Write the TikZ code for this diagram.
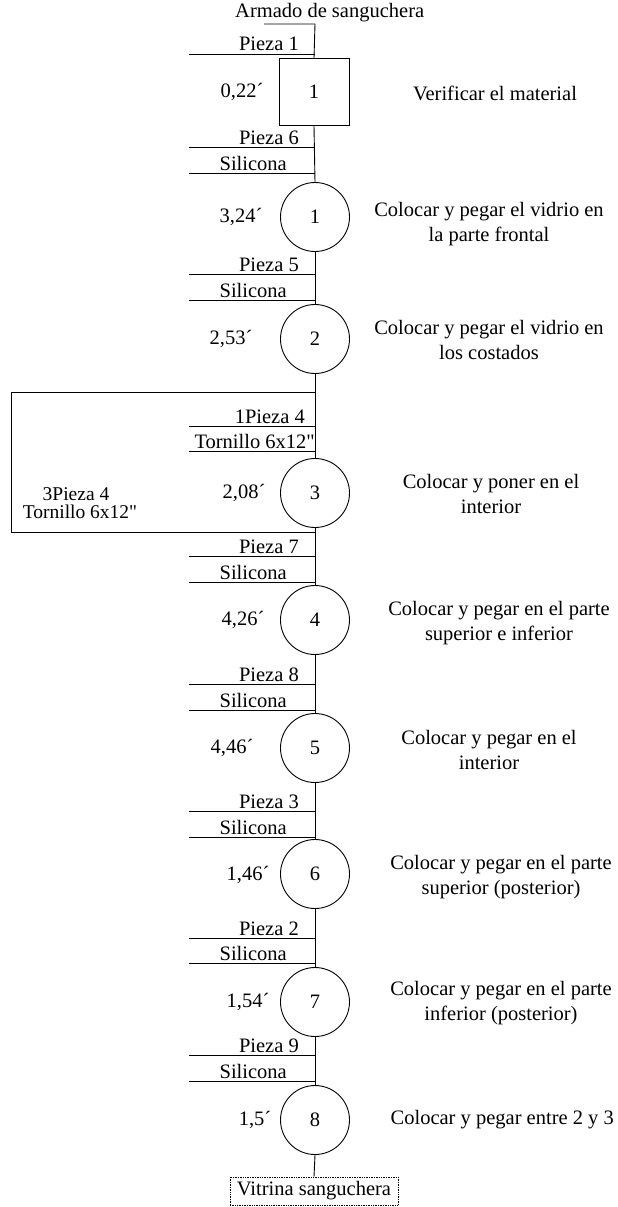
\documentclass[tikz,border=0pt]{standalone}
\usepackage{fontspec}
\setmainfont{Liberation Serif}[Ligatures=TeXOff]
\begin{document}
\begin{tikzpicture}[x=1pt,y=-1pt,
  every node/.style={font=\fontsize{20.5}{24.5}\selectfont, inner sep=0pt},
  flow/.style={line width=0.9pt},
  opbox/.style={draw, line width=0.9pt, minimum width=70pt, minimum height=67pt},
  opcirc/.style={draw, circle, line width=0.9pt, minimum size=69pt},
  inlabel/.style={anchor=base east},
  desc/.style={align=center},
  timelbl/.style={anchor=center}]
\useasboundingbox (0,0) rectangle (618,1207);

% title and start of the line
\node[anchor=base west] (title) at (235,18) {Armado de sanguchera};
\coordinate (start) at (264,24);
\coordinate (top) at (315,24);

% operations along the main line
\node[opbox] (op1) at (314,92) {1};
\node[opcirc] (c1) at (315,217) {1};
\node[opcirc] (c2) at (315,339) {2};
\node[opcirc] (c3) at (315,493) {3};
\node[opcirc] (c4) at (315,620) {4};
\node[opcirc] (c5) at (315,748) {5};
\node[opcirc] (c6) at (315,874) {6};
\node[opcirc] (c7) at (315,1002) {7};
\node[opcirc] (c8) at (315,1120) {8};
\node[draw, densely dotted, line width=0.7pt, minimum width=168pt, minimum height=28pt] (end) at (314,1191) {Vitrina sanguchera};

% main vertical line
\draw[flow] (start) -- (top) -- (op1.north);
\draw[flow] (op1.south) -- (c1.north);
\draw[flow] (c1.south) -- (c2.north);
\draw[flow] (c2.south) -- (c3.north);
\draw[flow] (c3.south) -- (c4.north);
\draw[flow] (c4.south) -- (c5.north);
\draw[flow] (c5.south) -- (c6.north);
\draw[flow] (c6.south) -- (c7.north);
\draw[flow] (c7.south) -- (c8.north);
\draw[flow] (c8.south) -- (end.north);

% repeat loop around operation 3
\coordinate (loopA) at (315,392);
\coordinate (loopB) at (11,392);
\coordinate (loopC) at (11,532);
\coordinate (loopD) at (315,532);
\draw[flow] (loopA) -- (loopB) -- (loopC) -- (loopD);

% material inputs: name, y of line, label x end
\foreach \nm/\yy/\xe/\txt in {
  a/54/299/Pieza 1,
  b/147/299/Pieza 6,
  c/173/287/Silicona,
  d/274/299/Pieza 5,
  e/300/287/Silicona,
  h/556/299/Pieza 7,
  i/582/287/Silicona,
  j/684/299/Pieza 8,
  k/710/287/Silicona,
  l/811/299/Pieza 3,
  m/837/287/Silicona,
  n/938/299/Pieza 2,
  o/963/287/Silicona,
  p/1055/299/Pieza 9,
  q/1081/287/Silicona} {
  \coordinate (in\nm L) at (189,\yy);
  \coordinate (in\nm R) at (315,\yy);
  \draw[flow] (in\nm L) -- (in\nm R);
  \node[inlabel] (lb\nm) at (\xe,\yy-3) {\txt};
}
\coordinate (infL) at (189,426);
\coordinate (infR) at (315,426);
\draw[flow] (infL) -- (infR);
\node[inlabel] (lbf) at (305,423) {1Pieza 4};
\coordinate (ingL) at (189,451);
\coordinate (ingR) at (315,451);
\draw[flow] (ingL) -- (ingR);
\node[inlabel] (lbg) at (315,448) {Tornillo 6x12"};

% loop label
\node[anchor=base, font=\fontsize{19.5}{18}\selectfont] (loopA1) at (76,500) {3Pieza 4};
\node[anchor=base, font=\fontsize{19.5}{18}\selectfont] (loopA2) at (80,518) {Tornillo 6x12"};

% times
\node[timelbl] (t1) at (242,92) {0,22´};
\node[timelbl] (t2) at (241,217) {3,24´};
\node[timelbl] (t3) at (231,339) {2,53´};
\node[timelbl] (t4) at (244,493) {2,08´};
\node[timelbl] (t5) at (243,620) {4,26´};
\node[timelbl] (t6) at (232,748) {4,46´};
\node[timelbl] (t7) at (248,875) {1,46´};
\node[timelbl] (t8) at (248,1002) {1,54´};
\node[timelbl] (t9) at (255,1120) {1,5´};

% descriptions
\node[desc] (d0) at (495,93) {Verificar el material};
\node[desc] (d1) at (489,224) {Colocar y pegar el vidrio en\\la parte frontal};
\node[desc] (d2) at (489,340) {Colocar y pegar el vidrio en\\los costados};
\node[desc] (d3) at (491,494) {Colocar y poner en el\\interior};
\node[desc] (d4) at (499,623) {Colocar y pegar en el parte\\superior e inferior};
\node[desc] (d5) at (489,750) {Colocar y pegar en el\\interior};
\node[desc] (d6) at (501,877) {Colocar y pegar en el parte\\superior (posterior)};
\node[desc] (d7) at (501,1003) {Colocar y pegar en el parte\\inferior (posterior)};
\node[anchor=east] (d8) at (614,1120) {Colocar y pegar entre 2 y 3};
\end{tikzpicture}
\end{document}
